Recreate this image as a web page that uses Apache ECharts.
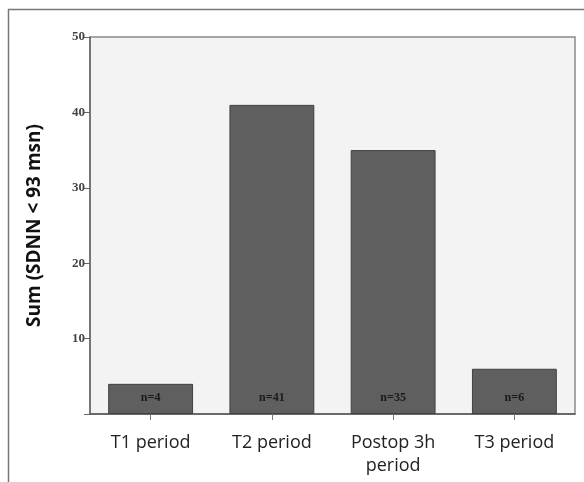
<!DOCTYPE html>
<html><head><meta charset="utf-8">
<script src="https://cdn.jsdelivr.net/npm/echarts@6/dist/echarts.min.js"></script>
<style>html,body{margin:0;padding:0;background:#fff}#c{width:584px;height:482px}</style>
</head><body><div id="c"></div>
<script>
const categories = ['T1 period', 'T2 period', 'Postop 3h\nperiod', 'T3 period'];
const values = [4, 41, 35, 6];
const barLabels = ['n=4', 'n=41', 'n=35', 'n=6'];
const yTicks = [0, 10, 20, 30, 40, 50];

const chart = echarts.init(document.getElementById('c'));
chart.setOption({
  animation: false,
  graphic: [
    { type: 'line', shape: { x1: 8.5, y1: 9, x2: 8.5, y2: 482 }, style: { stroke: '#777', lineWidth: 1.5 } },
    { type: 'line', shape: { x1: 8, y1: 9.5, x2: 584, y2: 9.5 }, style: { stroke: '#777', lineWidth: 1.5 } }
  ],
  grid: { left: 90, top: 37, right: 9, bottom: 68, show: true, backgroundColor: '#f3f3f3', borderColor: '#8a8a8a', borderWidth: 1.5 },
  xAxis: {
    type: 'category', data: categories,
    axisLine: { lineStyle: { color: '#555', width: 1.5 } },
    axisTick: { show: true, alignWithLabel: true, length: 6, lineStyle: { color: '#777' } },
    axisLabel: { color: '#222', fontFamily: 'Open Sans', fontSize: 18, lineHeight: 23, margin: 17, interval: 0 }
  },
  yAxis: {
    type: 'value', min: 0, max: 50, interval: 10,
    name: 'Sum (SDNN < 93 msn)', nameLocation: 'middle', nameGap: 46,
    nameTextStyle: { color: '#111', fontFamily: 'Open Sans', fontWeight: 'bold', fontSize: 19 },
    axisLine: { show: true, lineStyle: { color: '#666', width: 1.5 } },
    axisTick: { show: true, length: 6, lineStyle: { color: '#666' } },
    splitLine: { show: false },
    axisLabel: { color: '#444', fontFamily: 'Liberation Serif', fontWeight: 'bold', fontSize: 13, margin: 5,
      formatter: v => (v === 0 ? '' : String(v)) }
  },
  series: [{
    type: 'bar', data: values, barWidth: '70%',
    itemStyle: { color: '#5f5f5f', borderColor: '#404040', borderWidth: 1 },
    label: { show: true, position: 'insideBottom', distance: 10,
      formatter: p => barLabels[p.dataIndex],
      color: '#1a1a1a', fontFamily: 'Liberation Serif', fontWeight: 'bold', fontSize: 12 }
  }]
});
</script></body></html>
